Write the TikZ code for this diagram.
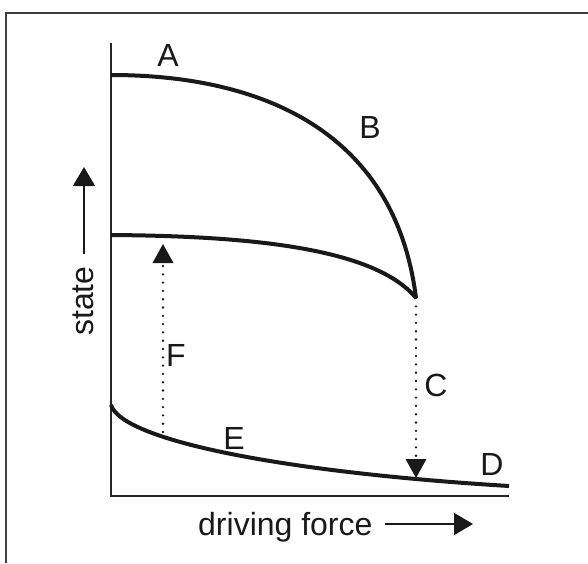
\documentclass[tikz,border=0pt]{standalone}
\usepackage{fontspec}
\setmainfont{Liberation Sans}
\usetikzlibrary{arrows.meta}
\begin{document}
\begin{tikzpicture}[x=1pt,y=-1pt,
  frameline/.style={draw=black!75, line width=2pt},
  axisline/.style={draw=black!85, line width=2.4pt},
  curveline/.style={draw=black!90, line width=4pt},
  dotline/.style={draw=black!90, line width=2.6pt, line cap=round, dash pattern=on 0pt off 8.3pt},
  bigtip/.style={-{Triangle[width=22pt,length=19pt]}},
  lbl/.style={font=\fontsize{32}{38}\selectfont, inner sep=0pt, text=black!90}]
\useasboundingbox (0,0) rectangle (588,563);
\fill[white] (0,0) rectangle (588,563);
% frame
\draw[frameline] (6,563) -- (6,13) -- (588,13);
% axes
\coordinate (ytop) at (111,43);
\coordinate (origin) at (111,496);
\coordinate (xend) at (509,496);
\draw[axisline] (ytop) -- (origin) -- (xend);
% curves
\coordinate (a0) at (111,75);
\coordinate (cusp) at (416,298);
\coordinate (m0) at (111,235);
\coordinate (e0) at (111,405);
\coordinate (d1) at (509,486);
\draw[curveline] (a0) .. controls (260,75) and (395,130) .. (cusp);
\draw[curveline] (m0) .. controls (250,236) and (375,248) .. (cusp);
\draw[curveline] (e0) .. controls (122,440) and (280,472) .. (d1);
% dotted arrows
\coordinate (cend) at (416,478);
\coordinate (fstart) at (163,432);
\coordinate (fend) at (163,244);
\draw[dotline] (cusp) -- (416,462);
\fill[black!90] (405.5,459) -- (426.5,459) -- (cend) -- cycle;
\draw[dotline] (fstart) -- (163,262);
\fill[black!90] (152.5,263) -- (173.5,263) -- (fend) -- cycle;
% axis direction arrows
\coordinate (s0) at (84,254);
\coordinate (s1) at (84,167);
\draw[black!90, line width=1.8pt, bigtip] (s0) -- (s1);
\coordinate (f0) at (385,524);
\coordinate (f1) at (473,524);
\draw[black!90, line width=1.8pt, bigtip] (f0) -- (f1);
% labels
\node[lbl] (A) at (168,55) {A};
\node[lbl] (B) at (370,127) {B};
\node[lbl] (C) at (436,385) {C};
\node[lbl] (D) at (492,464) {D};
\node[lbl] (E) at (234,438) {E};
\node[lbl] (F) at (176,355) {F};
\node[lbl, anchor=base west, rotate=90] (state) at (93,336) {state};
\node[lbl, anchor=base west] (force) at (198,535) {driving force};
\end{tikzpicture}
\end{document}
